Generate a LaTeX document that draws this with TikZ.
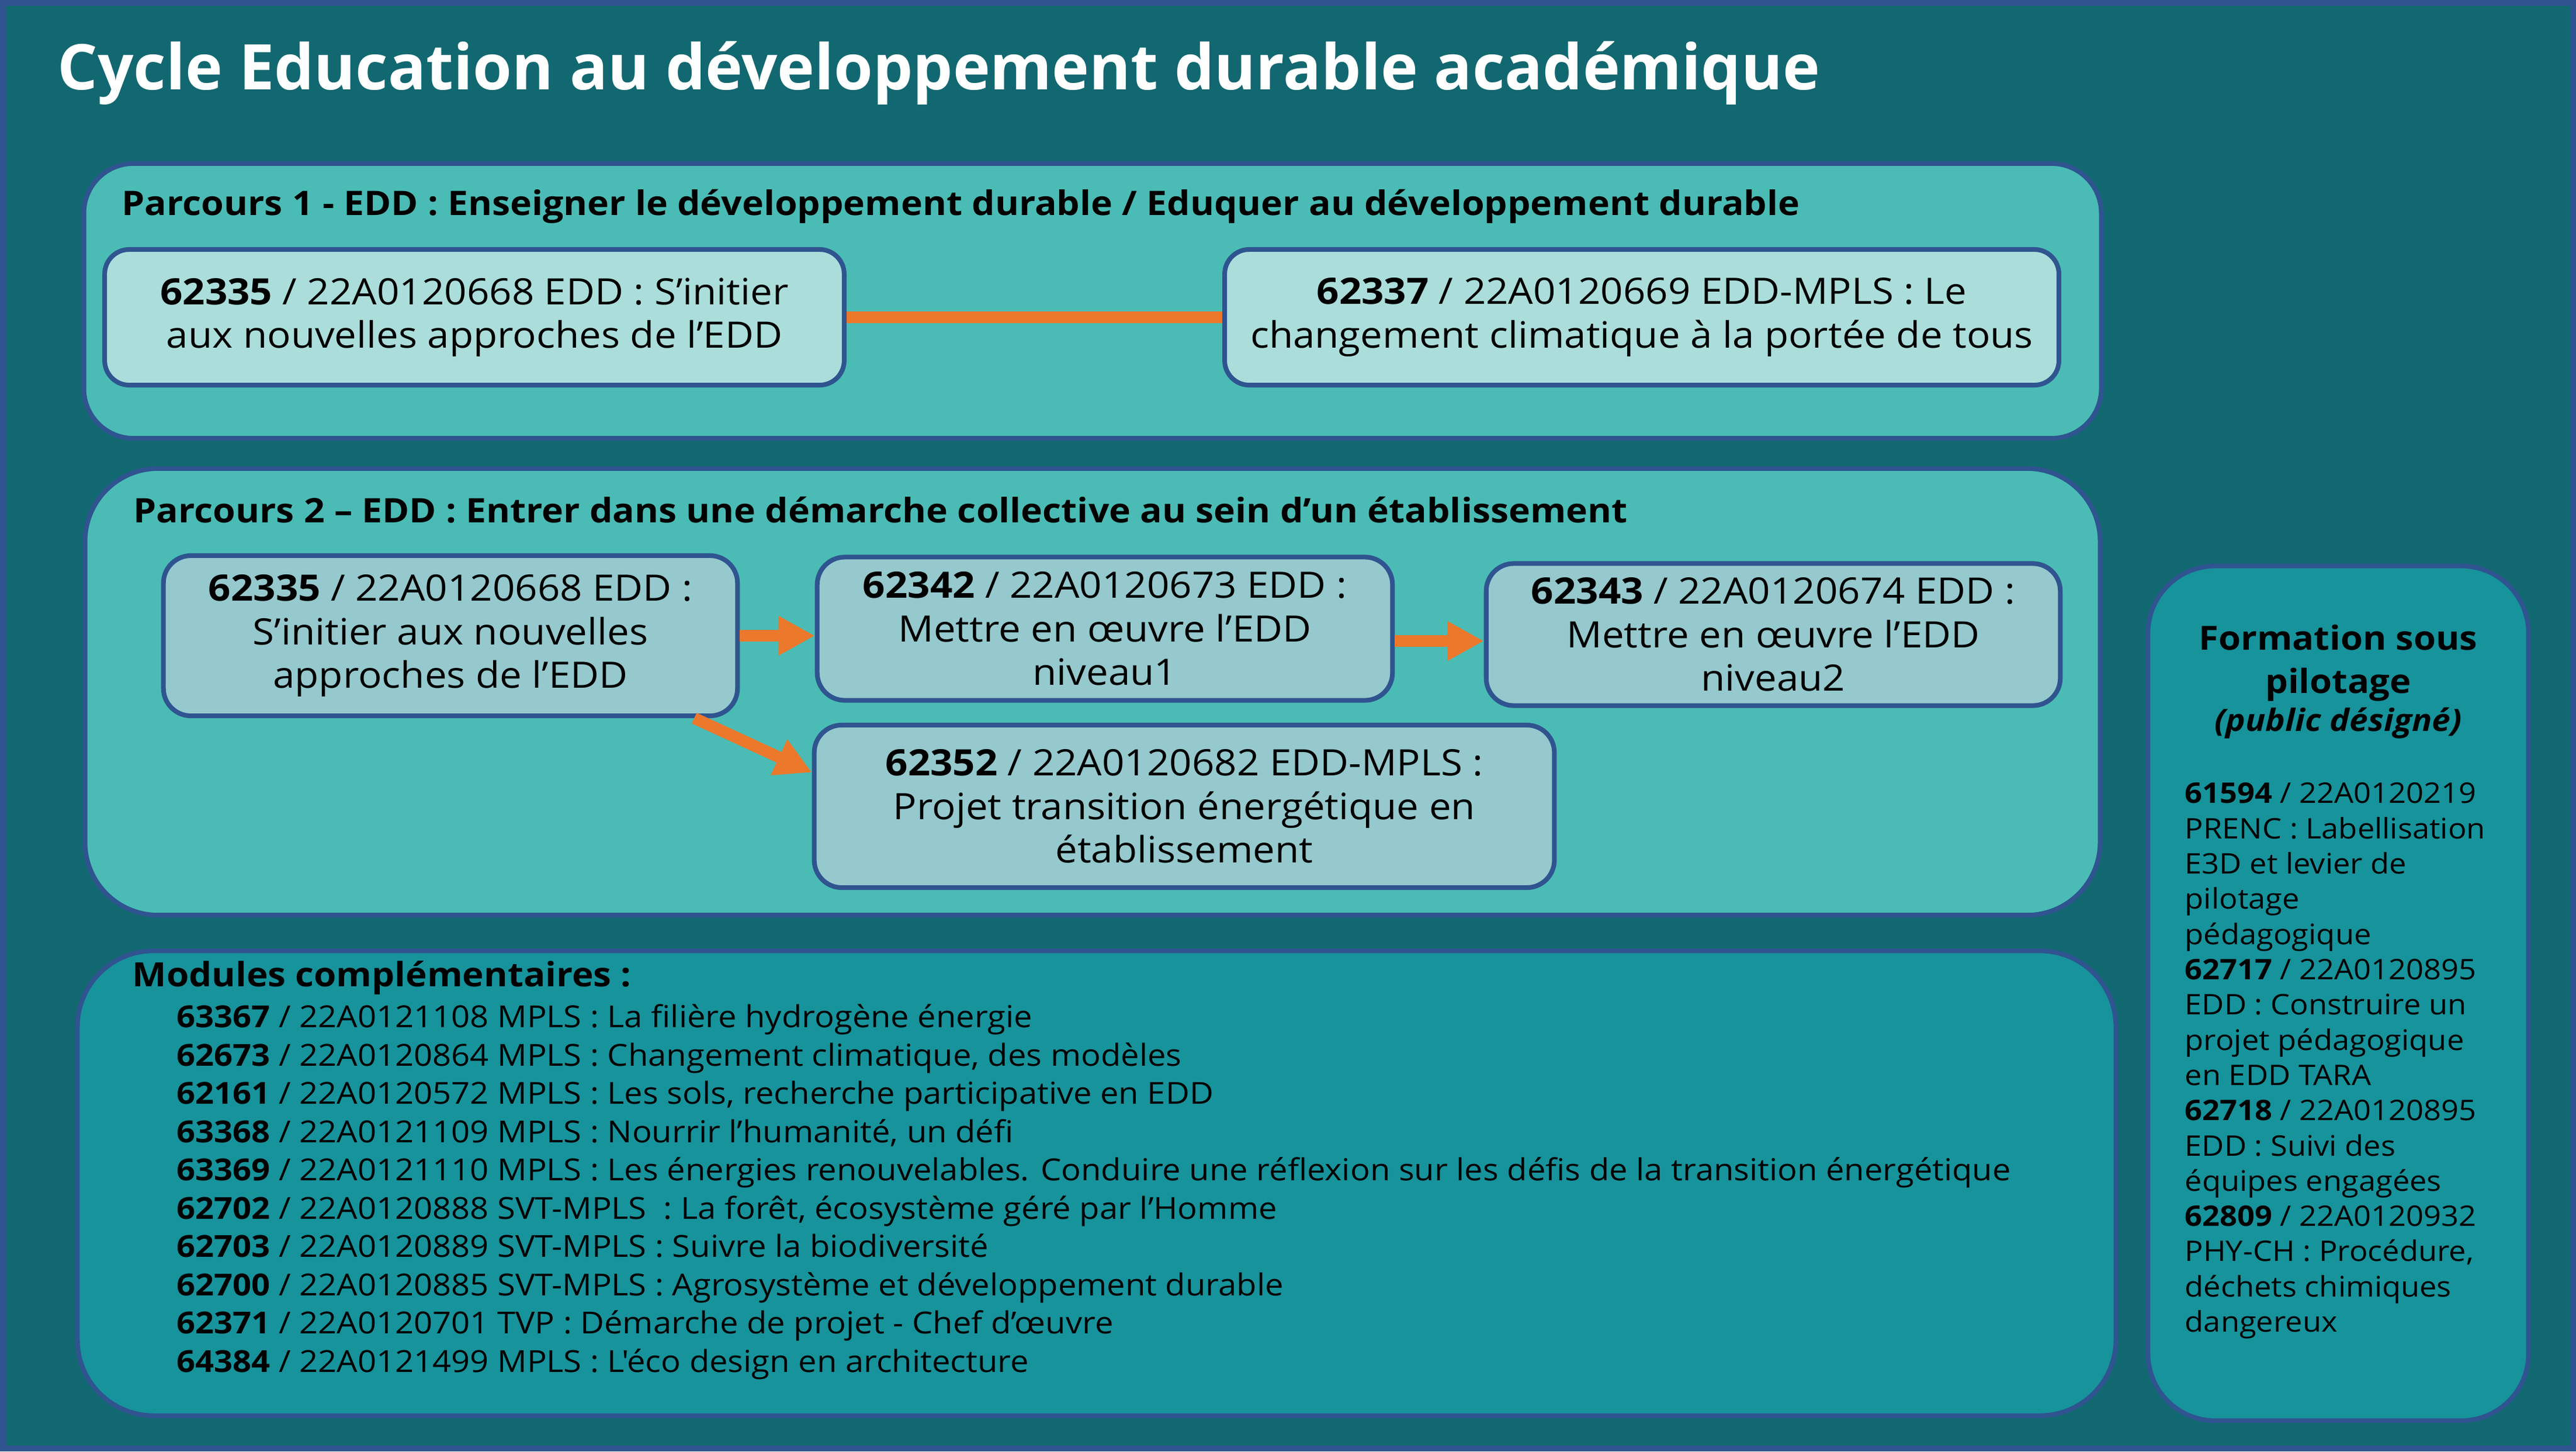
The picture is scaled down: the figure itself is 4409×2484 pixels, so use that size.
\documentclass[tikz,border=0pt]{standalone}
\usepackage{fontspec}
\setmainfont{Open Sans}[FakeStretch=1.08, Ligatures=TeXOff]
\newfontfamily\titlefont{Open Sans}
\usetikzlibrary{arrows.meta,positioning}
\definecolor{bgteal}{RGB}{18,104,112}
\definecolor{frameblue}{RGB}{47,84,143}
\definecolor{parcoursfill}{RGB}{74,188,181}
\definecolor{lightbox}{RGB}{171,222,219}
\definecolor{greybox}{RGB}{149,201,205}
\definecolor{modfill}{RGB}{23,147,156}
\definecolor{linkorange}{RGB}{236,120,44}
\tikzset{%
  % Specifications for style of arrows:
   link/.style={
           line width=0.2cm,
           linkorange},
   flow/.style={
           link,
           -{Triangle[width=0.63cm,length=0.62cm]}},
  % Specifications for style of nodes:
   panel/.style = {rectangle, rounded corners=0.85cm, draw=frameblue,
                  line width=0.08cm, fill=parcoursfill, inner sep=0pt},
   modules/.style = {panel, fill=modfill, rounded corners=1.3cm},
   course/.style = {rectangle, rounded corners=0.42cm, draw=frameblue,
                  line width=0.08cm, fill=lightbox, inner sep=0pt,
                  text centered, align=center,
                  font=\fontsize{17.7}{21.2}\selectfont},
   coursetwo/.style = {course, fill=greybox, rounded corners=0.47cm},
   heading/.style = {anchor=base west, inner sep=0pt,
                  font=\bfseries\fontsize{16.45}{19}\selectfont},
   listing/.style = {anchor=north west, inner sep=0pt, align=left},
}
\begin{document}
\begin{tikzpicture}[x=0.01cm, y=-0.01cm]
  \useasboundingbox (0,0) rectangle (4409,2484);
  \fill[bgteal] (0,0) rectangle (4409,2484);
  \draw[frameblue, line width=0.1cm] (5,5) rectangle (4404,2479);

  % Title
  \node (title_text) [anchor=base west, inner sep=0pt, text=white,
      font=\titlefont\bfseries\fontsize{30.7}{37}\selectfont] at (98,153)
      {Cycle Education au développement durable académique};

  % Specification of panels (position, etc.)
  \node (p1_panel) [panel, minimum width=34.51cm, minimum height=4.70cm] at (1870,515) {};
  \node (p2_panel) [panel, rounded corners=1.25cm, minimum width=34.47cm, minimum height=7.64cm] at (1870,1184) {};
  \node (p3_panel) [modules, minimum width=34.87cm, minimum height=7.95cm] at (1877,2025) {};
  \node (p4_panel) [modules, rounded corners=1.15cm, minimum width=6.51cm, minimum height=14.62cm] at (4002,1700) {};

  \node (p1_head) [heading] at (208,368)
      {Parcours 1 - EDD : Enseigner le développement durable / Eduquer au développement durable};
  \node (p2_head) [heading] at (228,894)
      {Parcours 2 – EDD : Entrer dans une démarche collective au sein d’un établissement};

  % Parcours 1
  \node (A1_block) [course, minimum width=12.65cm, minimum height=2.32cm] at (812,543)
      {\textbf{62335} / 22A0120668 EDD : S’initier\\aux nouvelles approches de l’EDD};
  \node (A2_block) [course, minimum width=14.27cm, minimum height=2.32cm] at (2810,543)
      {\textbf{62337} / 22A0120669 EDD-MPLS : Le\\changement climatique à la portée de tous};

  % Parcours 2
  \node (B1_block) [coursetwo, minimum width=9.82cm, minimum height=2.74cm] at (771,1088)
      {\textbf{62335} / 22A0120668 EDD :\\S’initier aux nouvelles\\approches de l’EDD};
  \node (B2_block) [coursetwo, minimum width=9.84cm, minimum height=2.45cm] at (1891,1076)
      {\textbf{62342} / 22A0120673 EDD :\\Mettre en œuvre l’EDD\\niveau1};
  \node (B3_block) [coursetwo, minimum width=9.82cm, minimum height=2.43cm] at (3035,1086)
      {\textbf{62343} / 22A0120674 EDD :\\Mettre en œuvre l’EDD\\niveau2};
  \node (B4_block) [coursetwo, minimum width=12.66cm, minimum height=2.78cm] at (2027,1380)
      {\textbf{62352} / 22A0120682 EDD-MPLS :\\Projet transition énergétique en\\établissement};

  % Modules
  \node (p3_head) [heading, font=\bfseries\fontsize{16.3}{20}\selectfont] at (226,1688)
      {Modules complémentaires :};
  \node (p3_list) [listing, font=\fontsize{14.77}{18.64}\selectfont] at (302,1718)
      {\textbf{63367} / 22A0121108 MPLS : La filière hydrogène énergie\\
       \textbf{62673} / 22A0120864 MPLS : Changement climatique, des modèles\\
       \textbf{62161} / 22A0120572 MPLS : Les sols, recherche participative en EDD\\
       \textbf{63368} / 22A0121109 MPLS : Nourrir l’humanité, un défi\\
       \textbf{63369} / 22A0121110 MPLS : Les énergies renouvelables. Conduire une réflexion sur les défis de la transition énergétique\\
       \textbf{62702} / 22A0120888 SVT-MPLS \ : La forêt, écosystème géré par l’Homme\\
       \textbf{62703} / 22A0120889 SVT-MPLS : Suivre la biodiversité\\
       \textbf{62700} / 22A0120885 SVT-MPLS : Agrosystème et développement durable\\
       \textbf{62371} / 22A0120701 TVP : Démarche de projet - Chef d’œuvre\\
       \textbf{64384} / 22A0121499 MPLS : L'éco design en architecture};

  % Formation sous pilotage
  \node (p4_head) [anchor=north, inner sep=0pt, align=center,
      font=\bfseries\fontsize{16.2}{21.3}\selectfont] at (4002,1068)
      {Formation sous\\pilotage\\[-3pt]{\itshape\fontsize{15}{18}\selectfont(public désigné)}};
  \node (p4_list) [listing, font=\fontsize{13.8}{17.15}\selectfont] at (3739,1339)
      {\textbf{61594} / 22A0120219\\PRENC : Labellisation\\E3D et levier de\\pilotage\\pédagogique\\
       \textbf{62717} / 22A0120895\\EDD : Construire un\\projet pédagogique\\en EDD TARA\\
       \textbf{62718} / 22A0120895\\EDD : Suivi des\\équipes engagées\\
       \textbf{62809} / 22A0120932\\PHY-CH : Procédure,\\déchets chimiques\\dangereux};

  % Links between courses
  \draw[link] (A1_block) -- (A2_block);
  \draw[flow] (B1_block.east) -- (B1_block.east -| B2_block.west);
  \draw[flow] ([yshift=-0.21cm]B2_block.east) -- ([yshift=-0.21cm]B2_block.east -| B3_block.west);
  \draw[flow] ([xshift=-0.78cm]B1_block.south east) -- ([yshift=0.58cm]B4_block.west);
\end{tikzpicture}
\end{document}
